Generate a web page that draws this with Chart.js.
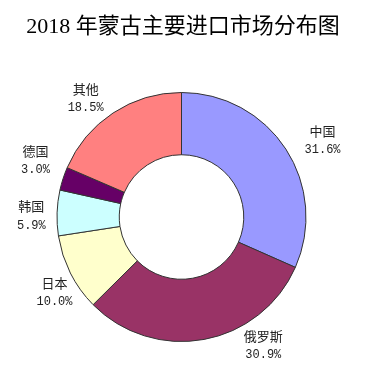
<!DOCTYPE html>
<html>
<head>
<meta charset="utf-8">
<script src="https://cdn.jsdelivr.net/npm/chart.js@4/dist/chart.umd.min.js"></script>
<style>
html,body{margin:0;padding:0;background:#fff;}
#wrap{width:384px;height:390px;position:relative;}
</style>
</head>
<body>
<div id="wrap"><canvas id="c" width="384" height="390"></canvas></div>
<script>
const titleText = "2018 年蒙古主要进口市场分布图";
const categories = ["中国", "俄罗斯", "日本", "韩国", "德国", "其他"];
const shares = [31.6, 30.9, 10.0, 5.9, 3.0, 18.5];
const valueLabels = ["31.6%", "30.9%", "10.0%", "5.9%", "3.0%", "18.5%"];

const colors = ["#9999FF", "#993366", "#FFFFCC", "#CCFFFF", "#660066", "#FF8080"];
// label centre offsets, in units of the outer radius, from the doughnut centre
const labelOffsets = [[1.133, -0.613], [0.657, 1.032], [-1.02, 0.605], [-1.206, -0.008], [-1.173, -0.452], [-0.77, -0.952]];

const titlePlugin = {
  id: 'titleDraw',
  afterDraw(chart) {
    const ctx = chart.ctx;
    ctx.save();
    ctx.fillStyle = '#000';
    ctx.font = '22px "Liberation Serif", "Noto Sans CJK SC"';
    ctx.textAlign = 'center';
    ctx.textBaseline = 'middle';
    ctx.fillText(titleText, 183, 27);
    ctx.restore();
  }
};

const labelPlugin = {
  id: 'sliceLabels',
  afterDatasetsDraw(chart) {
    const ctx = chart.ctx;
    const meta = chart.getDatasetMeta(0);
    ctx.save();
    ctx.fillStyle = '#222';
    ctx.textAlign = 'center';
    ctx.textBaseline = 'middle';
    meta.data.forEach((arc, i) => {
      const R = arc.outerRadius;
      const x = arc.x + labelOffsets[i][0] * R;
      const y = arc.y + labelOffsets[i][1] * R;
      ctx.font = '13px "Noto Sans CJK SC"';
      ctx.fillText(categories[i], x, y - 9.5);
      ctx.font = '12px "Liberation Mono", "Noto Sans CJK SC"';
      ctx.fillText(valueLabels[i], x, y + 9.5);
    });
    ctx.restore();
  }
};

new Chart(document.getElementById('c'), {
  type: 'doughnut',
  data: {
    labels: categories,
    datasets: [{
      data: shares,
      backgroundColor: colors,
      borderColor: '#333',
      borderWidth: 1,
      borderAlign: 'center'
    }]
  },
  options: {
    responsive: false,
    animation: false,
    cutout: '50%',
    layout: { padding: { left: 0, right: 21, top: 92, bottom: 48 } },
    plugins: {
      legend: { display: false },
      tooltip: { enabled: false },
      title: { display: false }
    }
  },
  plugins: [titlePlugin, labelPlugin]
});
</script>
</body>
</html>
